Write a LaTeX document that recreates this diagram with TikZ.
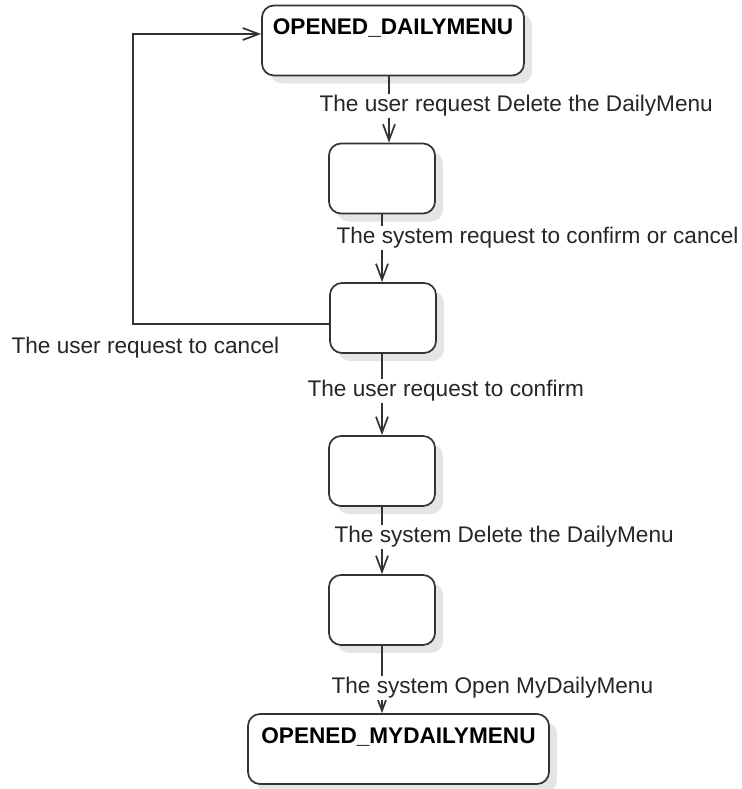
\documentclass[tikz,border=0pt]{standalone}
\usepackage{fontspec}
\setmainfont{Liberation Sans}
\usetikzlibrary{arrows.meta,shadows}

\begin{document}
\begin{tikzpicture}[x=0.5pt, y=-0.5pt, >={Straight Barb[length=8pt,width=6pt]}, font=\fontsize{11.3}{13.6}\selectfont]
			\tikzstyle{state} = [draw=black!80, line width=0.85pt, rounded corners=6pt, fill=white, drop shadow={shadow xshift=4pt, shadow yshift=-4pt, fill=black!10, opacity=1}, minimum width=53pt, minimum height=35pt, inner sep=0pt]
			\tikzstyle{named} = [state, font=\fontsize{11.3}{13.6}\selectfont\bfseries, align=center]
			\tikzstyle{trig} = [fill=white, inner sep=0.6pt, anchor=west, text=black!85]
			\useasboundingbox (0,0) rectangle (742,789);
			\begin{scope}
			\path
			node[named, minimum width=131pt] (s0) at (393,40.5) {OPENED\_DAILYMENU\\\mbox{}}
			node[state] (s1) at (382,178.5) {}
			node[state] (s2) at (383,318) {}
			node[state] (s3) at (382,471) {}
			node[state] (s4) at (382,610) {}
			node[named, minimum width=150.5pt] (s5) at (398.5,749) {OPENED\_MYDAILYMENU\\\mbox{}}
			;
			\path[->, line width=0.85pt, color=black!80]
			([xshift=-2pt]s0.south) edge ([xshift=-2pt]s0.south |- s1.north)
			(s1.south) edge (s1.south |- s2.north)
			(s3.north |- s2.south) edge (s3.north)
			(s3.south) edge (s4.north)
			(s4.south) edge (s4.south |- s5.north)
			;
			\draw[->, line width=0.85pt, color=black!80] ([yshift=-3pt]s2.west) -- ++(-196,0) |- ([yshift=3.25pt]s0.west);
			\path
			node[trig] (l1) at (318,106) {The user request Delete the DailyMenu}
			node[trig] (l2) at (335,238) {The system request to confirm or cancel}
			node[trig] (l3) at (10,348) {The user request to cancel}
			node[trig] (l4) at (306,391) {The user request to confirm}
			node[trig] (l5) at (333,537) {The system Delete the DailyMenu}
			node[trig] (l6) at (330,688) {The system Open MyDailyMenu}
			;
			\end{scope}
			\end{tikzpicture}
\end{document}
